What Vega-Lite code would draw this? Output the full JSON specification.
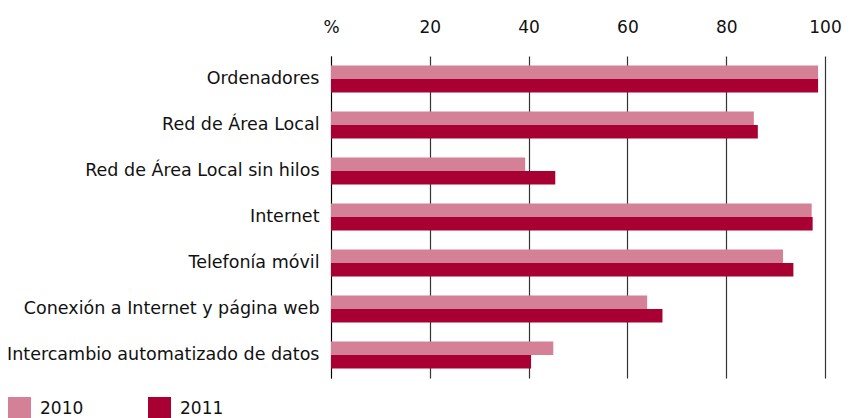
{
  "$schema": "https://vega.github.io/schema/vega-lite/v6.json",
  "width": 494,
  "height": 322,
  "autosize": {"type": "none"},
  "padding": {"left": 331, "top": 56, "right": 37, "bottom": 40},
  "background": "white",
  "config": {
    "view": {"stroke": null},
    "font": "DejaVu Sans"
  },
  "data": {
    "values": [
      {"categoria": "Ordenadores", "año": "2010", "valor": 98.6},
      {"categoria": "Ordenadores", "año": "2011", "valor": 98.6},
      {"categoria": "Red de Área Local", "año": "2010", "valor": 85.6},
      {"categoria": "Red de Área Local", "año": "2011", "valor": 86.4},
      {"categoria": "Red de Área Local sin hilos", "año": "2010", "valor": 39.3},
      {"categoria": "Red de Área Local sin hilos", "año": "2011", "valor": 45.4},
      {"categoria": "Internet", "año": "2010", "valor": 97.3},
      {"categoria": "Internet", "año": "2011", "valor": 97.5},
      {"categoria": "Telefonía móvil", "año": "2010", "valor": 91.5},
      {"categoria": "Telefonía móvil", "año": "2011", "valor": 93.6},
      {"categoria": "Conexión a Internet y página web", "año": "2010", "valor": 64.0},
      {"categoria": "Conexión a Internet y página web", "año": "2011", "valor": 67.1},
      {"categoria": "Intercambio automatizado de datos", "año": "2010", "valor": 45.0},
      {"categoria": "Intercambio automatizado de datos", "año": "2011", "valor": 40.5}
    ]
  },
  "mark": {"type": "bar"},
  "encoding": {
    "y": {
      "field": "categoria",
      "type": "nominal",
      "sort": null,
      "scale": {"paddingInner": 0.41, "paddingOuter": 0.205},
      "axis": {
        "title": null,
        "ticks": false,
        "domain": true,
        "domainColor": "#000000",
        "domainWidth": 1,
        "labelFont": "DejaVu Sans",
        "labelFontSize": 17.5,
        "labelColor": "#111111",
        "labelPadding": 12,
        "labelLimit": 400
      }
    },
    "yOffset": {
      "field": "año",
      "type": "nominal",
      "scale": {"paddingInner": 0, "paddingOuter": 0}
    },
    "x": {
      "field": "valor",
      "type": "quantitative",
      "scale": {"domain": [0, 100], "nice": false},
      "axis": {
        "orient": "top",
        "title": null,
        "values": [0, 20, 40, 60, 80, 100],
        "labelExpr": "datum.value === 0 ? '%' : datum.label",
        "ticks": false,
        "domain": false,
        "grid": true,
        "gridColor": "#333333",
        "gridWidth": 1.2,
        "labelFont": "DejaVu Sans",
        "labelFontSize": 17,
        "labelColor": "#111111",
        "labelPadding": 20,
        "labelFlush": false
      }
    },
    "color": {
      "field": "año",
      "type": "nominal",
      "scale": {"domain": ["2010", "2011"], "range": ["#D48096", "#A80032"]},
      "legend": {
        "title": null,
        "orient": "none",
        "direction": "horizontal",
        "legendX": -323,
        "legendY": 341,
        "symbolType": "square",
        "symbolSize": 529,
        "symbolStrokeWidth": 0,
        "symbolOpacity": 1,
        "labelFont": "DejaVu Sans",
        "labelFontSize": 17,
        "labelColor": "#111111",
        "labelOffset": 9,
        "columnPadding": 64
      }
    }
  }
}
